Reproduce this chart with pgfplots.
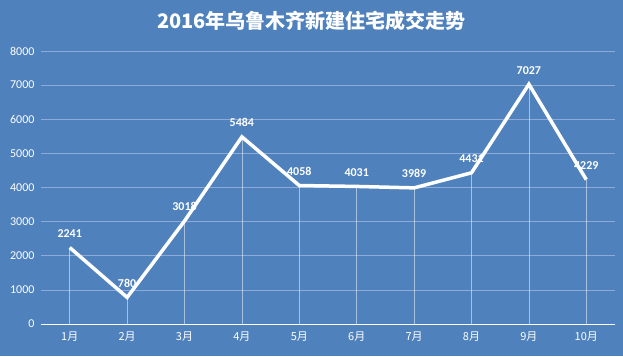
\documentclass[border=0pt]{standalone}
\usepackage{pgfplots}
\pgfplotsset{compat=1.18}
\usepackage{fontspec}
\setmainfont{Carlito}
\newfontfamily\cjk{Noto Sans CJK SC}
\definecolor{bg}{HTML}{4F81BD}
\definecolor{gridc}{HTML}{8EAAD8}
\begin{document}
\begin{tikzpicture}[x=1pt,y=1pt]
\fill[bg] (0,0) rectangle (623,356);
\node[text=white,font=\cjk\bfseries\fontsize{20}{22}\selectfont] at (311.5,335) {2016年乌鲁木齐新建住宅成交走势};
\begin{axis}[
  at={(41pt,32pt)}, anchor=origin,
  scale only axis, width=574pt, height=273pt,
  xmin=0.5, xmax=10.5, ymin=0, ymax=8000,
  axis x line=bottom, axis y line=left,
  y axis line style={draw=none},
  x axis line style={white, line width=1pt, -},
  xtick={1,...,10},
  xticklabels={1月,2月,3月,4月,5月,6月,7月,8月,9月,10月},
  extra x ticks={0.5,1.5,...,10.5},
  extra x tick labels={},
  extra x tick style={major tick length=5pt, tick style={white, line width=0.8pt}, tick align=outside, grid=none},
  major tick length=0pt,
  ytick={0,1000,...,8000},
  ymajorgrids, grid style={gridc, line width=0.6pt},
  yticklabel style={text=white, font=\fontsize{12}{13}\selectfont, xshift=-3pt},
  xticklabel style={text=white, font=\cjk\fontsize{11}{12}\selectfont, yshift=-4pt},
  scaled y ticks=false,
  yticklabel={\pgfmathprintnumber[assume math mode=true,set thousands separator={}]{\tick}},
  clip=false,
  tick style={draw=none},
]
\addplot[ycomb, white, opacity=0.5, line width=0.6pt, mark=none] coordinates {
(1,2241) (2,780) (3,3018) (4,5484) (5,4058) (6,4031) (7,3989) (8,4431) (9,7027) (10,4229)};
\addplot[white, line width=3.5pt, line join=miter, mark=none,
  nodes near coords, nodes near coords style={text=white, font=\bfseries\fontsize{12}{13}\selectfont, yshift=5pt, opacity=1},
  point meta=explicit symbolic] coordinates {
(1,2241) [2241] (2,780) [780] (3,3018) [3018] (4,5484) [5484] (5,4058) [4058] (6,4031) [4031] (7,3989) [3989] (8,4431) [4431] (9,7027) [7027] (10,4229) [4229]};
\end{axis}
\end{tikzpicture}
\end{document}
